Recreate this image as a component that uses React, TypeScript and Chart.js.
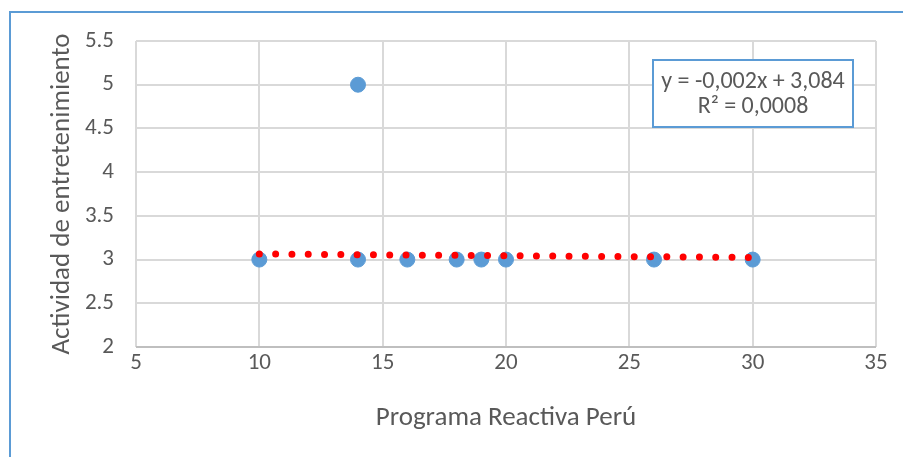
import React, { useEffect, useRef } from "react";
import { Chart, registerables } from "chart.js";

Chart.register(...registerables);

const xValues = [10, 14, 14, 16, 18, 19, 20, 26, 30];
const yValues = [3, 5, 3, 3, 3, 3, 3, 3, 3];
const trendX = [10, 30];
const trendY = [3.064, 3.024];
const equationLines = ["y = -0,002x + 3,084", "R² = 0,0008"];
const xTitle = "Programa Reactiva Perú";
const yTitle = "Actividad de entretenimiento";

const FONT = "Carlito, 'Open Sans', 'Noto Sans', sans-serif";
const TEXT = "#595959";
const BLUE = "#5B9BD5";

const boxPlugin = {
  id: "eqBox",
  afterDraw(chart: any) {
    const { ctx, chartArea } = chart;
    const w = 200;
    const h = 67;
    const x = chartArea.right - 23 - w;
    const y = chartArea.top + 19;
    ctx.save();
    ctx.fillStyle = "#ffffff";
    ctx.fillRect(x, y, w, h);
    ctx.strokeStyle = BLUE;
    ctx.lineWidth = 2;
    ctx.strokeRect(x, y, w, h);
    ctx.fillStyle = TEXT;
    ctx.font = `24px ${FONT}`;
    ctx.textAlign = "center";
    ctx.textBaseline = "middle";
    ctx.fillText(equationLines[0], x + w / 2, y + 22);
    ctx.fillText(equationLines[1], x + w / 2, y + 47);
    ctx.restore();
  },
};

export default function App() {
  const ref = useRef<HTMLCanvasElement>(null);
  useEffect(() => {
    const chart = new Chart(ref.current as HTMLCanvasElement, {
      type: "scatter",
      data: {
        datasets: [
          {
            type: "line",
            data: trendX.map((x, i) => ({ x, y: trendY[i] })),
            borderColor: "#FF0000",
            borderWidth: 7,
            borderDash: [0, 16.3],
            borderCapStyle: "round",
            pointRadius: 0,
            fill: false,
            order: 0,
          } as any,
          {
            data: xValues.map((x, i) => ({ x, y: yValues[i] })),
            backgroundColor: BLUE,
            borderColor: BLUE,
            pointRadius: 7.5,
            pointHoverRadius: 7.5,
            order: 1,
          },
        ],
      },
      options: {
        animation: false,
        responsive: false,
        events: [],
        layout: { padding: { left: 0, top: 41, right: 27, bottom: 0 } },
        plugins: { legend: { display: false }, tooltip: { enabled: false } },
        scales: {
          x: {
            type: "linear",
            min: 5,
            max: 35,
            ticks: {
              stepSize: 5,
              color: TEXT,
              font: { family: FONT, size: 23 },
              padding: 2,
              maxRotation: 0,
            },
            grid: { color: "#d9d9d9", lineWidth: 2, drawTicks: false },
            border: { display: false },
            title: {
              display: true,
              text: xTitle,
              color: TEXT,
              font: { family: FONT, size: 27 },
              padding: { top: 0, bottom: 23 },
            },
            afterFit(scale: any) {
              scale.height = 110;
            },
          },
          y: {
            type: "linear",
            min: 2,
            max: 5.5,
            ticks: {
              stepSize: 0.5,
              color: TEXT,
              font: { family: FONT, size: 23 },
              padding: 22,
              callback: (v: any) => String(v),
            },
            grid: {
              color: (c: any) => (c.tick && c.tick.value === 2 ? "#bfbfbf" : "#d9d9d9"),
              lineWidth: 2,
              drawTicks: false,
            },
            border: { display: false },
            title: {
              display: true,
              text: yTitle,
              color: TEXT,
              font: { family: FONT, size: 27 },
              padding: { top: 46, bottom: 0 },
            },
            afterFit(scale: any) {
              scale.width = 136;
            },
          },
        },
      },
      plugins: [boxPlugin],
    } as any);
    return () => chart.destroy();
  }, []);
  return (
    <div
      style={{
        position: "fixed",
        left: 0,
        top: 0,
        width: 903,
        height: 457,
        overflow: "hidden",
        background: "#ffffff",
      }}
    >
      <div
        style={{
          position: "absolute",
          left: 9,
          top: 11,
          width: 1000,
          height: 600,
          borderLeft: `2px solid ${BLUE}`,
          borderTop: `2px solid ${BLUE}`,
          boxSizing: "border-box",
        }}
      />
      <canvas
        ref={ref}
        width={903}
        height={457}
        style={{ position: "absolute", left: 0, top: 0, width: 903, height: 457 }}
      />
    </div>
  );
}
